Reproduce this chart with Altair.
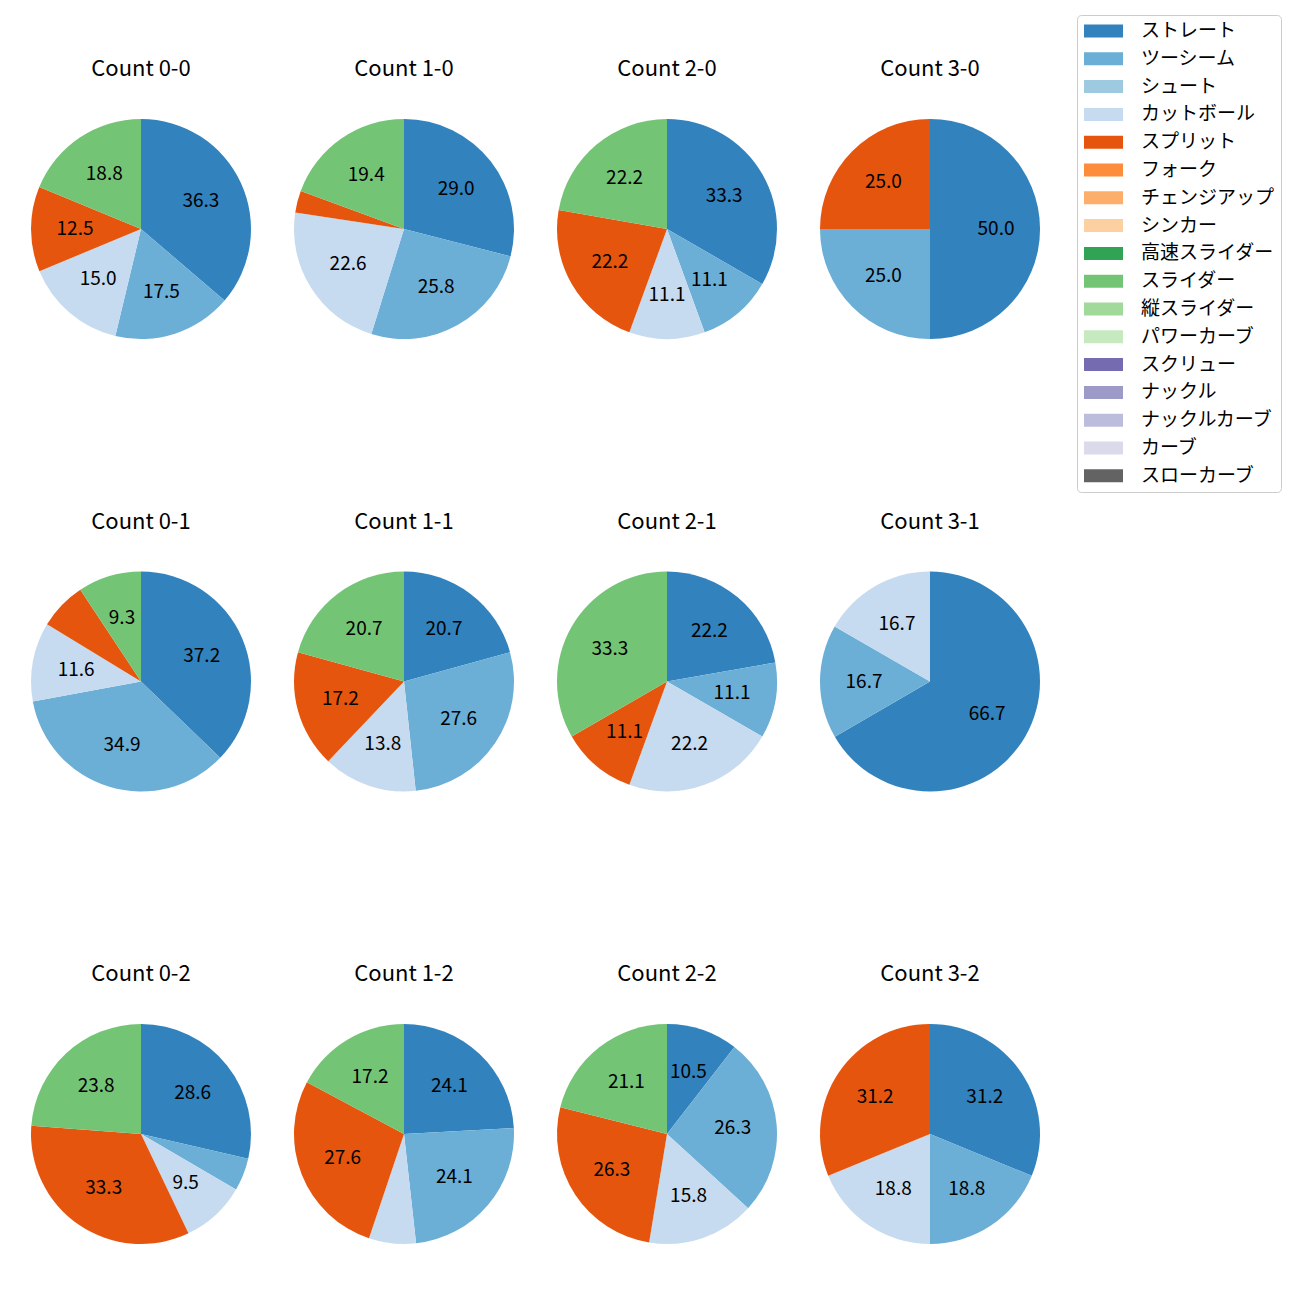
import altair as alt
import pandas as pd

FONT = "Noto Sans CJK JP"

counts = ["0-0", "1-0", "2-0", "3-0", "0-1", "1-1", "2-1", "3-1", "0-2", "1-2", "2-2", "3-2"]

pitch_types = ["ストレート", "ツーシーム", "シュート", "カットボール", "スプリット", "フォーク",
               "チェンジアップ", "シンカー", "高速スライダー", "スライダー", "縦スライダー",
               "パワーカーブ", "スクリュー", "ナックル", "ナックルカーブ", "カーブ", "スローカーブ"]
colors = ["#3182bd", "#6baed6", "#9ecae1", "#c6dbef", "#e6550d", "#fd8d3c", "#fdae6b",
          "#fdd0a2", "#31a354", "#74c476", "#a1d99b", "#c7e9c0", "#756bb1", "#9e9ac8",
          "#bcbddc", "#dadaeb", "#636363"]

# percentage of pitches per count (same order as counts)
straight = [36.3, 29.0, 33.3, 50.0, 37.2, 20.7, 22.2, 66.7, 28.6, 24.1, 10.5, 31.2]
twoseam  = [17.5, 25.8, 11.1, 25.0, 34.9, 27.6, 11.1, 16.7, 4.8, 24.1, 26.3, 18.8]
cutter   = [15.0, 22.6, 11.1, 0.0, 11.6, 13.8, 22.2, 16.7, 9.5, 6.9, 15.8, 18.8]
split    = [12.5, 3.2, 22.2, 25.0, 7.0, 17.2, 11.1, 0.0, 33.3, 27.6, 26.3, 31.2]
slider   = [18.8, 19.4, 22.2, 0.0, 9.3, 20.7, 33.3, 0.0, 23.8, 17.2, 21.1, 0.0]

series = {"ストレート": straight, "ツーシーム": twoseam, "カットボール": cutter,
          "スプリット": split, "スライダー": slider}

rows = []
for i, c in enumerate(counts):
    b, s = c.split("-")
    for name, vals in series.items():
        if vals[i] > 0:
            rows.append({"count": c, "col": int(b), "row": int(s), "pitch": name,
                         "order": pitch_types.index(name), "pct": vals[i]})
df = pd.DataFrame(rows)

titles = pd.DataFrame({
    "count": counts,
    "col": [int(c.split("-")[0]) for c in counts],
    "row": [int(c.split("-")[1]) for c in counts],
    "title": ["Count " + c for c in counts],
})

X = alt.X("col:Q", scale=alt.Scale(domain=[0, 3], range=[133, 922], nice=False, zero=False), axis=None)
Y = alt.Y("row:Q", scale=alt.Scale(domain=[0, 2], range=[221, 1126], nice=False, zero=False), axis=None)
TS = alt.Scale(domain=[0, 1], range=[0, 6.283185307179586])

base = alt.Chart(df).transform_window(
    cum="sum(pct)", groupby=["count"], sort=[alt.SortField("order")]
).transform_joinaggregate(
    total="sum(pct)", groupby=["count"]
).transform_calculate(
    t1="datum.cum / datum.total",
    t0="(datum.cum - datum.pct) / datum.total",
    tm="(datum.cum - datum.pct / 2) / datum.total",
    label="datum.pct >= 8 ? format(datum.pct, '.1f') : ''",
)

arcs = base.mark_arc(outerRadius=110).encode(
    x=X, y=Y,
    theta=alt.Theta("t0:Q", scale=TS, stack=False),
    theta2="t1:Q",
    color=alt.Color("pitch:N", scale=alt.Scale(domain=pitch_types, range=colors),
                    legend=alt.Legend(title=None, orient="none", legendX=1069, legendY=7,
                                      symbolType="M-0.9,-0.65H3V0.65H-0.9Z", symbolSize=400,
                                      symbolStrokeWidth=0, labelFont=FONT, labelFontSize=19,
                                      labelColor="black", labelOffset=38, rowPadding=7.8,
                                      padding=6, strokeColor="#cccccc", fillColor="white",
                                      cornerRadius=4, labelLimit=300)),
)

labels = base.mark_text(radius=66, font=FONT, fontSize=19, color="black",
                        align="center", baseline="middle").encode(
    x=X, y=Y,
    theta=alt.Theta("tm:Q", scale=TS, stack=False),
    text="label:N",
)

title_layer = alt.Chart(titles).mark_text(dy=-160, font=FONT, fontSize=22, color="black",
                                          align="center", baseline="middle").encode(
    x=X, y=Y, text="title:N"
)

chart = alt.layer(arcs, labels, title_layer).properties(
    width=1060, height=1275, padding=0
).configure_view(stroke="transparent")

chart.save("out.html", embed_options={"renderer": "svg", "actions": False})
